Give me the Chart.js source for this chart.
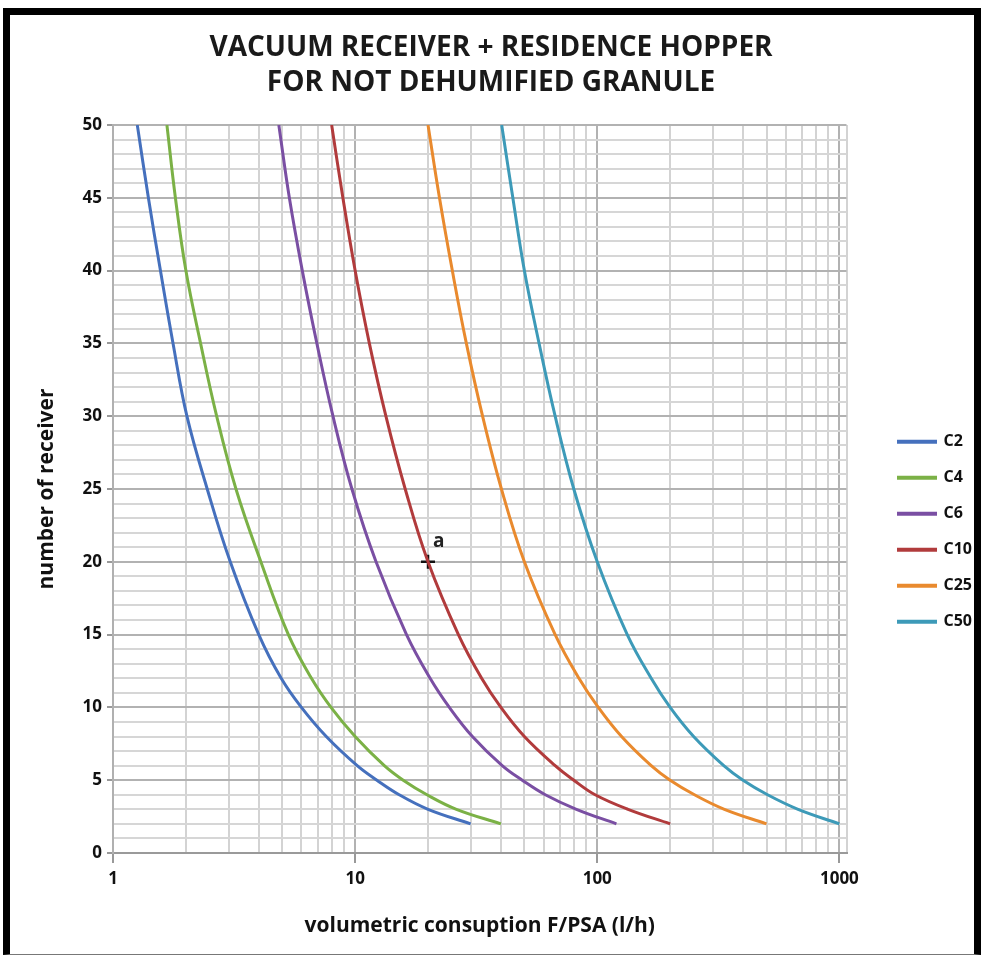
<!DOCTYPE html>
<html>
<head>
<meta charset="utf-8">
<title>Vacuum receiver + residence hopper</title>
<script src="https://cdn.jsdelivr.net/npm/chart.js@4.4.1/dist/chart.umd.min.js"></script>
<style>
  html, body { margin: 0; padding: 0; background: #fff; }
  #frame {
    position: absolute; left: 3px; top: 8px; width: 978px; height: 947px;
    box-sizing: border-box;
    border-left: 7px solid #000; border-top: 7px solid #000;
    border-right: 7px solid #000; border-bottom: 1px solid #777;
  }
  #wrap { position: absolute; left: 0; top: 0; width: 982px; height: 956px; }
</style>
</head>
<body>
<div id="frame"></div>
<div id="wrap"><canvas id="hopperChart" width="982" height="956"></canvas></div>
<script>
// number of receivers (y) and the flow read for each curve (x, l/h)
const receivers = [50, 45, 40, 35, 30, 25, 20, 15, 12, 10, 8, 6, 5, 4, 3, 2];
const flowC2  = [1.26, 1.40, 1.57, 1.77, 2.02, 2.45, 3.05, 4.0, 4.95, 6.0, 7.6, 10.2, 12.3, 15.2, 20, 30];
const flowC4  = [1.67, 1.81, 2.0, 2.3, 2.68, 3.22, 4.08, 5.3, 6.6, 7.95, 10, 13.2, 15.8, 19.8, 26.2, 40];
const flowC6  = [4.84, 5.35, 6.05, 6.95, 8.1, 9.7, 12.2, 16.3, 20.4, 24.5, 30.5, 40.5, 49, 61, 82, 120];
const flowC10 = [8.0, 8.9, 10.0, 11.45, 13.4, 16.1, 20, 26.7, 33.3, 40, 50, 67, 80, 98, 134, 200];
const flowC25 = [20, 22.3, 25.2, 28.8, 33.6, 40.2, 50, 67, 84, 101, 126, 167, 200, 252, 335, 500];
const flowC50 = [40.3, 44.8, 50, 57.5, 67, 80, 100, 133, 167, 200, 250, 333, 400, 505, 675, 1000];

const seriesNames  = ['C2', 'C4', 'C6', 'C10', 'C25', 'C50'];
const seriesColors = ['#4570bd', '#7bb146', '#7a4fa3', '#b13b3c', '#e98a2e', '#3d9ab8'];

const xTickLabels = [1, 10, 100, 1000];
const yTickLabels = [0, 5, 10, 15, 20, 25, 30, 35, 40, 45, 50];

// operating point "a"
const pointA = { x: 20, y: 20, label: 'a' };

const X_MAX = 1070;
const FONT = "'Open Sans', sans-serif";

// log grid: 1..9, 10..90, 100..900, 1000 and the right edge
const xGrid = [];
for (let d = 1; d < 1000; d *= 10) {
    for (let k = 1; k < 10; k++) xGrid.push(k * d);
}
xGrid.push(1000, X_MAX);

const flows = [flowC2, flowC4, flowC6, flowC10, flowC25, flowC50];

const datasets = flows.map(function(flow, i) {
    return {
        label: seriesNames[i],
        data: flow.map(function(f, j) { return { x: f, y: receivers[j] }; }),
        borderColor: seriesColors[i],
        backgroundColor: seriesColors[i],
        borderWidth: 3,
        pointRadius: 0,
        showLine: true,
        tension: 0.4
    };
});

datasets.push({
    label: pointA.label,
    data: [{ x: pointA.x, y: pointA.y }],
    pointStyle: 'cross',
    pointRadius: 7,
    borderColor: '#111',
    borderWidth: 2.5,
    showLine: false
});

const labelA = {
    id: 'labelA',
    afterDatasetsDraw(chart) {
        const ctx = chart.ctx;
        const px = chart.scales.x.getPixelForValue(pointA.x);
        const py = chart.scales.y.getPixelForValue(pointA.y);
        ctx.save();
        ctx.font = 'bold 19px ' + FONT;
        ctx.fillStyle = '#222';
        ctx.textAlign = 'left';
        ctx.textBaseline = 'middle';
        ctx.fillText(pointA.label, px + 5, py - 20);
        ctx.restore();
    }
};

new Chart(document.getElementById('hopperChart'), {
    type: 'scatter',
    data: { datasets: datasets },
    plugins: [labelA],
    options: {
        responsive: false,
        animation: false,
        layout: { padding: { left: 0, right: 0, top: 0, bottom: 0 } },
        plugins: {
            title: {
                display: true,
                text: ['VACUUM RECEIVER + RESIDENCE HOPPER', 'FOR NOT DEHUMIFIED GRANULE'],
                color: '#1a1a1a',
                font: { family: FONT, size: 28, weight: 'bold', lineHeight: 1.25 },
                padding: { top: 31, bottom: 24 }
            },
            legend: {
                position: 'right',
                align: 'center',
                title: { display: true, text: '', font: { size: 12, lineHeight: 1.2 }, padding: { top: 47, bottom: 46 } },
                labels: {
                    boxWidth: 37,
                    boxHeight: 1,
                    padding: 20,
                    color: '#111',
                    font: { family: FONT, size: 16, weight: 'bold' },
                    filter: function(item) { return item.datasetIndex < 6; }
                }
            },
            tooltip: { enabled: false }
        },
        scales: {
            x: {
                type: 'logarithmic',
                min: 1,
                max: X_MAX,
                afterBuildTicks: function(s) { s.ticks = xGrid.map(function(v) { return { value: v }; }); },
                afterFit: function(s) { s.height = 103; },
                ticks: {
                    autoSkip: false,
                    maxRotation: 0,
                    padding: 6,
                    color: '#111',
                    font: { family: FONT, size: 17, weight: 'bold' },
                    callback: function(v) { return xTickLabels.includes(v) ? String(v) : ''; }
                },
                grid: {
                    color: function(c) { return c.tick && xTickLabels.includes(c.tick.value) ? '#b2b2b2' : '#d3d3d3'; },
                    lineWidth: 2,
                    tickLength: 10,
                    tickColor: function(c) { return c.tick && xTickLabels.includes(c.tick.value) ? '#999' : 'rgba(0,0,0,0)'; }
                },
                border: { color: '#9a9a9a', width: 2 },
                title: {
                    display: true,
                    text: 'volumetric consuption F/PSA (l/h)',
                    color: '#111',
                    font: { family: FONT, size: 21, weight: 'bold' },
                    padding: { top: 0, bottom: 17 }
                }
            },
            y: {
                min: 0,
                max: 50,
                afterFit: function(s) { s.width = 113; },
                ticks: {
                    stepSize: 1,
                    autoSkip: false,
                    padding: 5,
                    color: '#111',
                    font: { family: FONT, size: 17, weight: 'bold' },
                    callback: function(v) { return yTickLabels.includes(v) ? String(v) : ''; }
                },
                grid: {
                    color: function(c) { return c.tick && c.tick.value % 5 === 0 ? '#b2b2b2' : '#d6d6d6'; },
                    lineWidth: 2,
                    tickLength: 6,
                    tickColor: function(c) { return c.tick && c.tick.value % 5 === 0 ? '#999' : 'rgba(0,0,0,0)'; }
                },
                border: { color: '#b0b0b0', width: 2 },
                title: {
                    display: true,
                    text: 'number of receiver',
                    color: '#111',
                    font: { family: FONT, size: 21, weight: 'bold' },
                    padding: { top: 34, bottom: 0 }
                }
            },
            gap: {
                type: 'linear',
                position: 'right',
                afterFit: function(s) { s.width = 32; },
                grid: { display: false, drawTicks: false },
                ticks: { display: false },
                border: { display: false }
            }
        }
    }
});
</script>
</body>
</html>
